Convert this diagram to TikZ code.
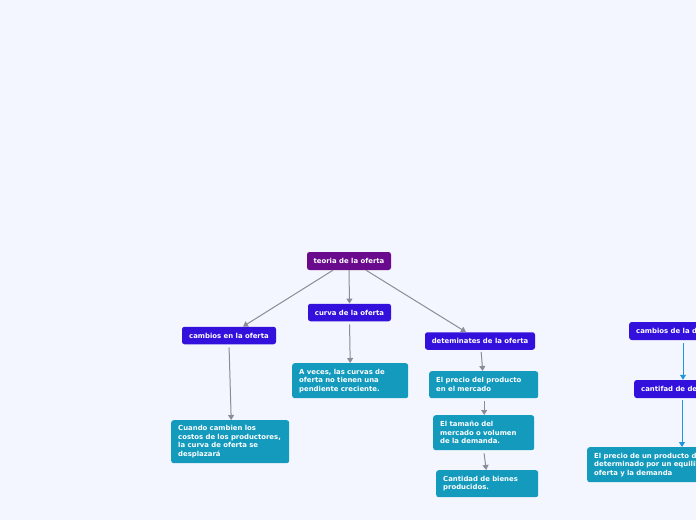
\documentclass[tikz,border=0pt]{standalone}
\usepackage{fontspec}
\setmainfont{DejaVu Sans}
\usetikzlibrary{arrows.meta}
\definecolor{bgc}{HTML}{F3F6FE}
\definecolor{purp}{HTML}{6A0A8C}
\definecolor{violet}{HTML}{3410DC}
\definecolor{tealc}{HTML}{149ABD}
\definecolor{arrgray}{HTML}{8A8C98}
\definecolor{arrblue}{HTML}{2096E0}
\tikzset{
  base/.style={text=white, font=\fontsize{6.9}{8.6}\selectfont\bfseries, rounded corners=2.5pt, inner ysep=1pt},
  topic/.style={base, fill=violet, inner xsep=6pt, minimum height=17.5pt},
  rootnode/.style={base, fill=purp, inner xsep=6pt, minimum height=18pt},
  content/.style={base, fill=tealc, inner xsep=7pt, align=left, anchor=north west},
  arr/.style={draw=arrgray, line width=1pt, -{Triangle[width=6pt,length=5pt]}},
  arrb/.style={draw=arrblue, line width=1pt, -{Triangle[width=6pt,length=5pt]}}
}
\begin{document}
\begin{tikzpicture}[x=1pt,y=-1pt]
\useasboundingbox (0,0) rectangle (696,520);
\fill[bgc] (0,0) rectangle (696,520);
\clip (0,0) rectangle (696,520);
% titles
\node[rootnode, minimum width=84pt] (teoria) at (349,261) {teoria de la oferta};
\node[topic, minimum width=83pt] (curva) at (349.5,312.5) {curva de la oferta};
\node[topic, minimum width=94pt] (cambiosof) at (229,335.5) {cambios en la oferta};
\node[topic, minimum width=110pt] (detem) at (480,341) {deteminates de la oferta};
\node[topic, anchor=west, minimum height=18pt, inner xsep=7pt] (cambiosdem) at (629,331) {cambios de la demanda};
\node[topic, anchor=west, minimum height=18pt, inner xsep=7pt] (cantifad) at (634,389) {cantifad de demanda};
% contents
\node[content, text width=102pt, minimum height=35pt] (aveces) at (292,363) {A veces, las curvas de\\oferta no tienen una\\pendiente creciente.};
\node[content, text width=104pt, minimum height=43pt] (cuando) at (171,420) {Cuando cambien los\\costos de los productores,\\la curva de oferta se\\desplazará};
\node[content, text width=95pt, minimum height=27pt] (precio) at (429,371) {El precio del producto\\en el mercado};
\node[content, text width=87pt, minimum height=35pt] (tamano) at (433,415) {El tamaño del\\mercado o volumen\\de la demanda.};
\node[content, text width=88pt, minimum height=27pt] (cantidad) at (436,470) {Cantidad de bienes\\producidos.};
\node[content, text width=160pt, minimum height=35pt] (preciodem) at (587,447) {El precio de un producto dado está\\determinado por un equilibrio entre la\\oferta y la demanda};
% connectors
\draw[arr] ([xshift=-16pt]teoria.south) -- ([xshift=14pt]cambiosof.north);
\draw[arr] (teoria.south) -- (curva.north);
\draw[arr] ([xshift=17pt]teoria.south) -- ([xshift=-14pt]detem.north);
\draw[arr, shorten <=3pt] (curva.south) -- (aveces.north);
\draw[arr, shorten <=3pt] (cambiosof.south) -- ([xshift=1pt]cuando.north);
\draw[arr, shorten <=2pt] ([xshift=1pt]detem.south) -- ([xshift=-1pt]precio.north);
\draw[arr, shorten <=3pt] ([xshift=0.5pt]precio.south) -- ([xshift=0.5pt]tamano.north);
\draw[arr, shorten <=3pt] (tamano.south) -- ([xshift=-1pt]cantidad.north);
\draw[arrb, shorten <=3pt] ([xshift=54pt]cambiosdem.south west) -- ([xshift=49pt]cantifad.north west);
\draw[arrb, shorten <=2pt] ([xshift=48pt]cantifad.south west) -- ([xshift=95pt]preciodem.north west);
\end{tikzpicture}
\end{document}
